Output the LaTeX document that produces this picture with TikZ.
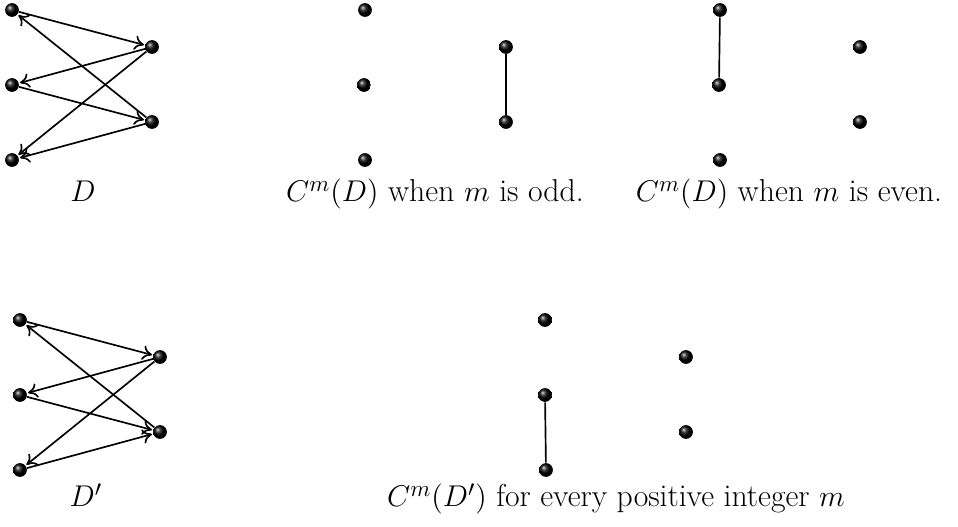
\documentclass[tikz,border=0pt]{standalone}
\usepackage{amsmath}
\usepackage{tikz}
\usetikzlibrary{arrows.meta}

\begin{document}
\begin{tikzpicture}[x=0.48pt, y=-0.48pt,
  vertex/.style={circle, shading=ball, ball color=black, minimum size=6.6pt, inner sep=0pt},
  arc/.style={-{To[length=4.5pt, width=7pt]}, thick, shorten >=0.5pt},
  edge/.style={thick},
  caption/.style={anchor=base, font=\fontsize{15.2}{18}\selectfont}
]
\useasboundingbox (0,0) rectangle (958,527);
% digraph D
\node[vertex] (a1) at (12,10) {};
\node[vertex] (a2) at (12,85) {};
\node[vertex] (a3) at (12,160) {};
\node[vertex] (b1) at (152,47) {};
\node[vertex] (b2) at (152,122) {};
\draw[arc] (a1) -- (b1);
\draw[arc] (b2) -- (a1);
\draw[arc] (b1) -- (a2);
\draw[arc] (a2) -- (b2);
\draw[arc] (b1) -- (a3);
\draw[arc] (b2) -- (a3);
\node[caption] (capD) at (83,202) {$D$};
% C^m(D), m odd
\node[vertex] (oa1) at (365,10) {};
\node[vertex] (oa2) at (364,85) {};
\node[vertex] (oa3) at (365,160) {};
\node[vertex] (ob1) at (506,47) {};
\node[vertex] (ob2) at (506,122) {};
\draw[edge] (ob1) -- (ob2);
\node[caption] (capOdd) at (435,202) {$C^m(D)$ when $m$ is odd.};
% C^m(D), m even
\node[vertex] (ea1) at (720,10) {};
\node[vertex] (ea2) at (719,85) {};
\node[vertex] (ea3) at (720,160) {};
\node[vertex] (eb1) at (860,47) {};
\node[vertex] (eb2) at (860,122) {};
\draw[edge] (ea1) -- (ea2);
\node[caption] (capEven) at (789,202) {$C^m(D)$ when $m$ is even.};
% digraph D'
\node[vertex] (p1) at (20,320) {};
\node[vertex] (p2) at (20,395) {};
\node[vertex] (p3) at (20,470) {};
\node[vertex] (q1) at (160,357) {};
\node[vertex] (q2) at (160,432) {};
\draw[arc] (p1) -- (q1);
\draw[arc] (q2) -- (p1);
\draw[arc] (q1) -- (p2);
\draw[arc] (p2) -- (q2);
\draw[arc] (q1) -- (p3);
\draw[arc] (p3) -- (q2);
\node[caption] (capDp) at (86,507) {$D'$};
% C^m(D')
\node[vertex] (cp1) at (545,320) {};
\node[vertex] (cp2) at (545,395) {};
\node[vertex] (cp3) at (546,470) {};
\node[vertex] (cq1) at (686,357) {};
\node[vertex] (cq2) at (686,432) {};
\draw[edge] (cp2) -- (cp3);
\node[caption] (capCp) at (616,507) {$C^m(D')$ for every positive integer $m$};
\end{tikzpicture}
\end{document}
